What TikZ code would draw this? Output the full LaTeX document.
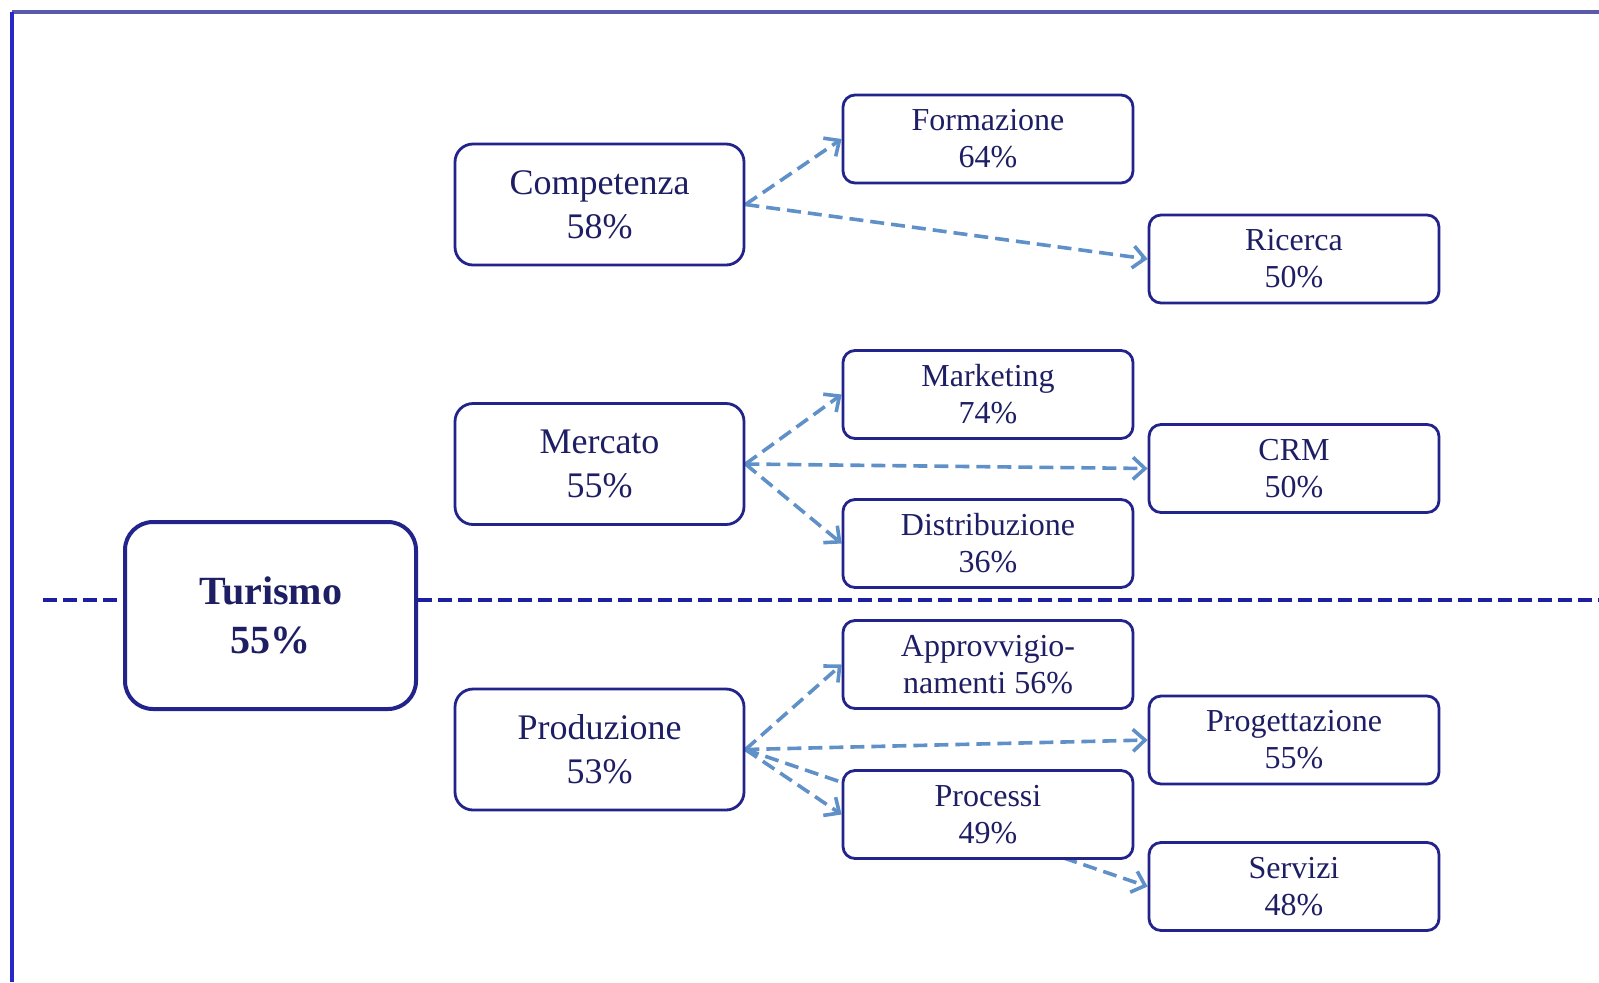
\documentclass[tikz,border=0pt]{standalone}
\usepackage{fontspec}
\setmainfont{Liberation Serif}
\usetikzlibrary{arrows.meta,backgrounds}
\definecolor{navy}{RGB}{35,35,140}
\definecolor{sepblue}{RGB}{30,30,160}
\definecolor{navytext}{RGB}{30,30,100}
\definecolor{linkblue}{RGB}{95,145,200}
\definecolor{frametop}{RGB}{90,90,170}
\definecolor{frameleft}{RGB}{40,40,200}
\tikzset{
  rootbox/.style={draw=navy, line width=2pt, rounded corners=14pt, fill=white,
    minimum width=145.5pt, minimum height=93.5pt, align=center, text=navytext,
    font=\fontsize{20}{24.5}\selectfont\bfseries},
  areabox/.style={draw=navy, line width=1.4pt, rounded corners=9pt, fill=white,
    minimum width=144.5pt, minimum height=60.5pt, align=center, text=navytext,
    font=\fontsize{18}{22}\selectfont},
  itembox/.style={draw=navy, line width=1.4pt, rounded corners=6pt, fill=white,
    minimum width=145pt, minimum height=44pt, align=center, text=navytext,
    font=\fontsize{16}{18.5}\selectfont},
  link/.style={draw=linkblue, line width=1.8pt, dash pattern=on 7pt off 3.5pt,
    -{Straight Barb[length=6pt,width=11pt,line width=1.8pt]}},
  sepline/.style={draw=sepblue, line width=2pt, dash pattern=on 7pt off 3pt}
}
\begin{document}
\begin{tikzpicture}[x=0.5pt,y=-0.5pt]
\useasboundingbox (0,0) rectangle (1599,982);
\draw[frametop, line width=2pt] (12,12) -- (1599,12);
\draw[frameleft, line width=2pt] (12,12) -- (12,982);

\node[rootbox] (turismo) at (270.5,615.5) {Turismo\\55\%};

\node[areabox] (competenza) at (599.5,204.5) {Competenza\\58\%};
\node[areabox] (mercato) at (599.5,464) {Mercato\\55\%};
\node[areabox] (produzione) at (599.5,749.5) {Produzione\\53\%};

\node[itembox] (formazione) at (988,139) {Formazione\\64\%};
\node[itembox] (ricerca) at (1294,259) {Ricerca\\50\%};
\node[itembox] (marketing) at (988,394.5) {Marketing\\74\%};
\node[itembox] (crm) at (1294,468.5) {CRM\\50\%};
\node[itembox] (distribuzione) at (988,543.5) {Distribuzione\\36\%};
\node[itembox] (approvv) at (988,664.5) {Approvvigio-\\namenti 56\%};
\node[itembox] (progettazione) at (1294,740) {Progettazione\\55\%};
\node[itembox] (processi) at (988,814.5) {Processi\\49\%};
\node[itembox] (servizi) at (1294,886.5) {Servizi\\48\%};

\coordinate (sepL) at (43,600);
\coordinate (sepR) at (1599,600);
\draw[sepline] (sepL) -- (sepL -| turismo.west);
\draw[sepline] (sepR -| turismo.east) -- (sepR);

\begin{scope}[on background layer]
\draw[link] (competenza.east) -- (formazione.west);
\draw[link] (competenza.east) -- (ricerca.west);
\draw[link] (mercato.east) -- (marketing.west);
\draw[link] (mercato.east) -- (crm.west);
\draw[link] (mercato.east) -- (distribuzione.west);
\draw[link] (produzione.east) -- (approvv.west);
\draw[link] (produzione.east) -- (progettazione.west);
\draw[link] (produzione.east) -- (processi.west);
\draw[link] (produzione.east) -- (servizi.west);
\end{scope}
\end{tikzpicture}
\end{document}
